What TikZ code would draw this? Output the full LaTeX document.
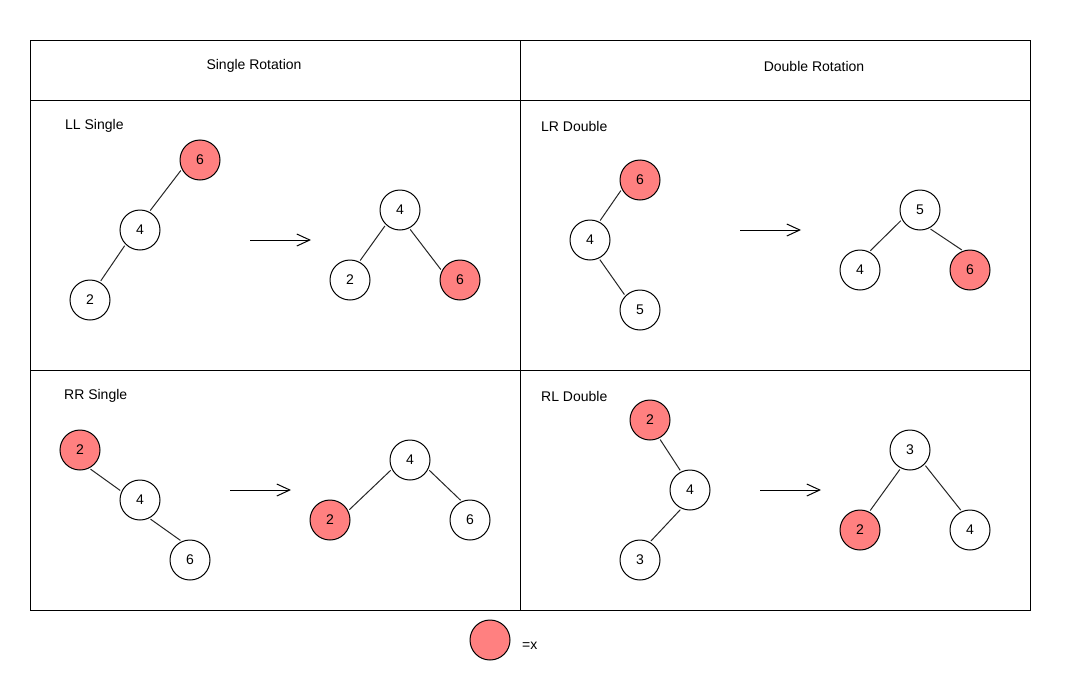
\documentclass[tikz,border=0pt]{standalone}
\usepackage{fontspec}
\setmainfont{Liberation Sans}
\usetikzlibrary{arrows.meta}
\definecolor{hot}{HTML}{FF8080}
\tikzset{
  tn/.style={circle,draw=black,line width=1pt,fill=white,minimum size=40pt,inner sep=0pt,font=\fontsize{14}{16}\selectfont},
  hn/.style={tn,fill=hot},
  ed/.style={line width=1pt,draw=black!85,shorten >=1.5pt,shorten <=1.5pt},
  arr/.style={line width=1pt,-{Straight Barb[length=13pt,width=12pt,line width=1pt]}},
  lbl/.style={anchor=west,inner sep=0pt,font=\fontsize{14}{16}\selectfont},
  hdr/.style={inner sep=0pt,font=\fontsize{14}{16}\selectfont},
  grid/.style={line width=1pt,draw=black}
}
\begin{document}
\begin{tikzpicture}[x=1pt,y=-1pt]
\useasboundingbox (0,0) rectangle (1070,680);
\fill[white] (0,0) rectangle (1070,680);
% table
\draw[grid] (30,40) rectangle (1030,610);
\draw[grid] (30,100) -- (1030,100);
\draw[grid] (30,370) -- (1030,370);
\draw[grid] (520,40) -- (520,610);
\node[hdr] (h1) at (254,66) {Single Rotation};
\node[hdr] (h2) at (814,66) {Double Rotation};
\node[lbl] (l1) at (65,126) {LL Single};
\node[lbl] (l2) at (541,126) {LR Double};
\node[lbl] (l3) at (64,396) {RR Single};
\node[lbl] (l4) at (541,396) {RL Double};
% LL
\node[hn] (a6) at (200,160) {6};
\node[tn] (a4) at (140,230) {4};
\node[tn] (a2) at (90,300) {2};
\draw[ed] (a6.-153) -- (a4.63);
\draw[ed] (a4.-135) -- (a2.61);
\coordinate (aa1) at (250,240); \coordinate (aa2) at (311,240);
\draw[arr] (aa1) -- (aa2);
\node[tn] (b4) at (400,210) {4};
\node[tn] (b2) at (350,280) {2};
\node[hn] (b6) at (460,280) {6};
\draw[ed] (b4.-134) -- (b2.63);
\draw[ed] (b4.-63) -- (b6.153);
% LR
\node[hn] (c6) at (640,180) {6};
\node[tn] (c4) at (590,240) {4};
\node[tn] (c5) at (640,310) {5};
\draw[ed] (c6.-153) -- (c4.63);
\draw[ed] (c4.-64) -- (c5.136);
\coordinate (ca1) at (740,230); \coordinate (ca2) at (801,230);
\draw[arr] (ca1) -- (ca2);
\node[tn] (d5) at (920,210) {5};
\node[tn] (d4) at (860,270) {4};
\node[hn] (d6) at (970,270) {6};
\draw[ed] (d5.-152) -- (d4.63);
\draw[ed] (d5.-63) -- (d6.110);
% RR
\node[hn] (e2) at (80,450) {2};
\node[tn] (e4) at (140,500) {4};
\node[tn] (e6) at (190,560) {6};
\draw[ed] (e2.-63) -- (e4.155);
\draw[ed] (e4.-63) -- (e6.114);
\coordinate (ea1) at (230,490); \coordinate (ea2) at (291,490);
\draw[arr] (ea1) -- (ea2);
\node[tn] (f4) at (410,460) {4};
\node[hn] (f2) at (330,520) {2};
\node[tn] (f6) at (470,520) {6};
\draw[ed] (f4.-153) -- (f2.27);
\draw[ed] (f4.-27) -- (f6.114);
% RL
\node[hn] (g2) at (650,420) {2};
\node[tn] (g4) at (690,490) {4};
\node[tn] (g3) at (640,560) {3};
\draw[ed] (g2.-63) -- (g4.116);
\draw[ed] (g4.-115) -- (g3.61);
\coordinate (ga1) at (760,490); \coordinate (ga2) at (821,490);
\draw[arr] (ga1) -- (ga2);
\node[tn] (k3) at (910,450) {3};
\node[hn] (k2) at (860,530) {2};
\node[tn] (k4) at (970,530) {4};
\draw[ed] (k3.-117) -- (k2.63);
\draw[ed] (k3.-45) -- (k4.114);
% legend
\node[hn] (lg) at (490,640) {};
\node[lbl] (lgt) at (522,646) {=x};
\end{tikzpicture}
\end{document}
